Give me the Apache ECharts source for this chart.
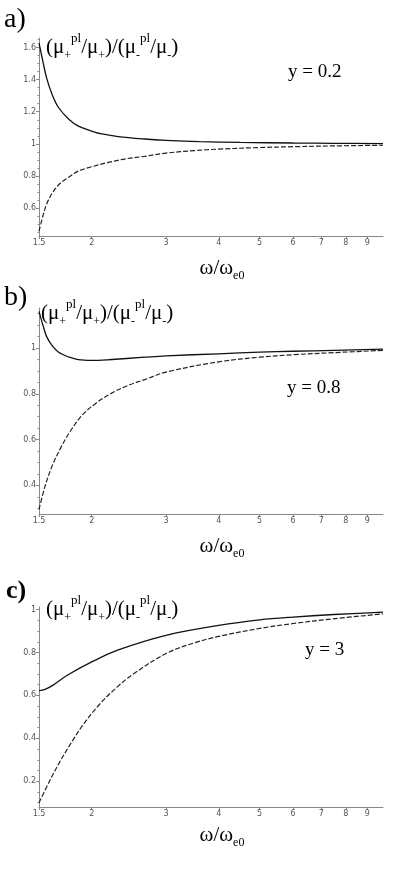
<!DOCTYPE html>
<html>
<head>
<meta charset="utf-8">
<script src="https://cdn.jsdelivr.net/npm/echarts@6/dist/echarts.min.js"></script>
<style>
    html, body { margin: 0; background: #fff; }
    #main { width: 399px; height: 871px; }
</style>
</head>
<body>
<div id="main"></div>
<script>
    // tick labels
    const xTicks = [1.5, 2, 3, 4, 5, 6, 7, 8, 9];
    const yTicksA = [0.6, 0.8, 1, 1.2, 1.4, 1.6];
    const yMinorA = [0.45, 0.5, 0.55, 0.65, 0.7, 0.75, 0.85, 0.9, 0.95, 1.05, 1.1, 1.15, 1.25, 1.3, 1.35, 1.45, 1.5, 1.55, 1.65];
    const yTicksB = [0.4, 0.6, 0.8, 1];
    const yMinorB = [0.3, 0.35, 0.45, 0.5, 0.55, 0.65, 0.7, 0.75, 0.85, 0.9, 0.95, 1.05, 1.1, 1.15];
    const yTicksC = [0.2, 0.4, 0.6, 0.8, 1];
    const yMinorC = [0.1, 0.15, 0.25, 0.3, 0.35, 0.45, 0.5, 0.55, 0.65, 0.7, 0.75, 0.85, 0.9, 0.95];

    // a) y = 0.2
    const wPlusA  = [1.5, 1.536, 1.564, 1.61, 1.67, 1.77, 1.86, 1.97, 2.1, 2.31, 2.67, 3.0, 3.6, 4.5, 6, 7.5, 9.8];
    const plusA   = [1.63, 1.50, 1.41, 1.31, 1.225, 1.15, 1.11, 1.085, 1.063, 1.045, 1.03, 1.022, 1.014, 1.009, 1.005, 1.003, 1.001];
    const wMinusA = [1.5, 1.536, 1.564, 1.61, 1.67, 1.77, 1.86, 2.0, 2.19, 2.43, 2.67, 3.0, 3.5, 4, 5, 6, 7.5, 9.8];
    const minusA  = [0.455, 0.56, 0.625, 0.69, 0.745, 0.795, 0.83, 0.857, 0.884, 0.908, 0.922, 0.942, 0.958, 0.967, 0.977, 0.982, 0.987, 0.991];

    // b) y = 0.8
    const wPlusB  = [1.5, 1.536, 1.564, 1.61, 1.67, 1.77, 1.86, 2.0, 2.19, 2.67, 3, 4, 5, 6, 7.5, 9.8];
    const plusB   = [1.16, 1.094, 1.05, 1.012, 0.982, 0.96, 0.949, 0.946, 0.949, 0.96, 0.966, 0.975, 0.982, 0.986, 0.99, 0.995];
    const wMinusB = [1.5, 1.55, 1.61, 1.69, 1.77, 1.89, 2.04, 2.23, 2.44, 2.67, 3, 4, 5, 6, 7.5, 9.8];
    const minusB  = [0.295, 0.396, 0.483, 0.565, 0.63, 0.703, 0.757, 0.803, 0.837, 0.862, 0.895, 0.94, 0.96, 0.971, 0.98, 0.99];

    // c) y = 3
    const wPlusC  = [1.5, 1.55, 1.62, 1.75, 2.0, 2.295, 3, 4, 5, 6, 7.5, 9.8];
    const plusC   = [0.622, 0.628, 0.648, 0.694, 0.756, 0.81, 0.88, 0.926, 0.952, 0.965, 0.977, 0.988];
    const wMinusC = [1.5, 1.593, 1.68, 1.77, 1.91, 2.09, 2.3, 2.51, 3.0, 3.5, 4, 5, 6, 7.47, 9.8];
    const minusC  = [0.10, 0.205, 0.29, 0.365, 0.465, 0.56, 0.64, 0.70, 0.795, 0.845, 0.875, 0.912, 0.935, 0.957, 0.98];

    function zip(xs, ys) {
        return xs.map((x, i) => [x, ys[i]]);
    }

    const serif = '"Liberation Serif", "Times New Roman", serif';
    const axisColor = '#888';
    const labelStyle = { fontSize: 8, color: '#555', fontFamily: 'DejaVu Sans, sans-serif' };

    const grids = [
        { left: 39, width: 344, top: 38, height: 198 },
        { left: 39, width: 344, top: 308, height: 206 },
        { left: 39, width: 344, top: 607, height: 200 }
    ];
    const yRanges = [[0.425, 1.66], [0.275, 1.175], [0.08, 1.012]];
    const yTicks = [yTicksA, yTicksB, yTicksC];
    const yMinor = [yMinorA, yMinorB, yMinorC];

    let xAxes = [], yAxes = [];
    for (let i = 0; i < 3; i++) {
        xAxes.push({
            type: 'log', logBase: 10, gridIndex: i, min: 1.5, max: 9.8,
            axisLine: { lineStyle: { color: axisColor } },
            axisTick: { customValues: xTicks, length: 3, lineStyle: { color: axisColor } },
            axisLabel: Object.assign({ customValues: xTicks, margin: 3 }, labelStyle),
            splitLine: { show: false }, minorTick: { show: false }
        });
        yAxes.push({
            type: 'value', gridIndex: i, position: 'left', min: yRanges[i][0], max: yRanges[i][1],
            axisLine: { show: true, lineStyle: { color: axisColor } },
            axisTick: { customValues: yTicks[i], length: 3, lineStyle: { color: axisColor } },
            axisLabel: Object.assign({ customValues: yTicks[i], margin: 3 }, labelStyle),
            splitLine: { show: false }
        });
        // minor ticks
        yAxes.push({
            type: 'value', gridIndex: i, position: 'left', offset: 0, min: yRanges[i][0], max: yRanges[i][1],
            axisLine: { show: false },
            axisTick: { customValues: yMinor[i], length: 1.5, lineStyle: { color: axisColor } },
            axisLabel: { show: false },
            splitLine: { show: false }
        });
    }

    const solid = { color: '#111', width: 1.3 };
    const dashed = { color: '#222', width: 1.2, type: [5, 2] };
    function line(data, idx, style) {
        return {
            type: 'line', xAxisIndex: idx, yAxisIndex: idx * 2, data: data,
            smooth: 0.35, showSymbol: false, lineStyle: style, silent: true
        };
    }

    const richTitle = {
        b: { fontFamily: serif, fontSize: 21, color: '#000', lineHeight: 28 },
        sub: { fontFamily: serif, fontSize: 12, color: '#000', verticalAlign: 'bottom', lineHeight: 22 },
        sup: { fontFamily: serif, fontSize: 13, color: '#000', verticalAlign: 'top', lineHeight: 30 }
    };
    const yTitle = '{b|(μ}{sub|+}{sup|pl}{b|/μ}{sub|+}{b|)/(μ}{sub|-}{sup|pl}{b|/μ}{sub|-}{b|)}';
    const xTitle = '{b|ω/ω}{sub|e0}';

    function txt(x, y, text, size, weight) {
        return { type: 'text', x: x, y: y, style: {
            text: text, font: (weight || 'normal') + ' ' + size + 'px ' + serif,
            fill: '#000', verticalAlign: 'middle' } };
    }
    function rich(x, y, text, align) {
        return { type: 'text', x: x, y: y, style: {
            text: text, rich: richTitle, fill: '#000', align: align || 'left', verticalAlign: 'middle' } };
    }

    let myChart = echarts.init(document.getElementById('main'));
    myChart.setOption({
        animation: false,
        grid: grids,
        xAxis: xAxes,
        yAxis: yAxes,
        series: [
            line(zip(wPlusA, plusA), 0, solid),
            line(zip(wMinusA, minusA), 0, dashed),
            line(zip(wPlusB, plusB), 1, solid),
            line(zip(wMinusB, minusB), 1, dashed),
            line(zip(wPlusC, plusC), 2, solid),
            line(zip(wMinusC, minusC), 2, dashed)
        ],
        graphic: [
            txt(4, 20, 'a)', 28),
            txt(4, 298, 'b)', 28),
            txt(6, 591, 'c)', 26, 'bold'),
            rich(46, 47, yTitle),
            rich(41, 313, yTitle),
            rich(46, 609, yTitle),
            txt(288, 72, 'y = 0.2', 19),
            txt(287, 388, 'y = 0.8', 19),
            txt(305, 650, 'y = 3', 19),
            rich(222, 268, xTitle, 'center'),
            rich(222, 546, xTitle, 'center'),
            rich(222, 835, xTitle, 'center')
        ]
    });
</script>
</body>
</html>
